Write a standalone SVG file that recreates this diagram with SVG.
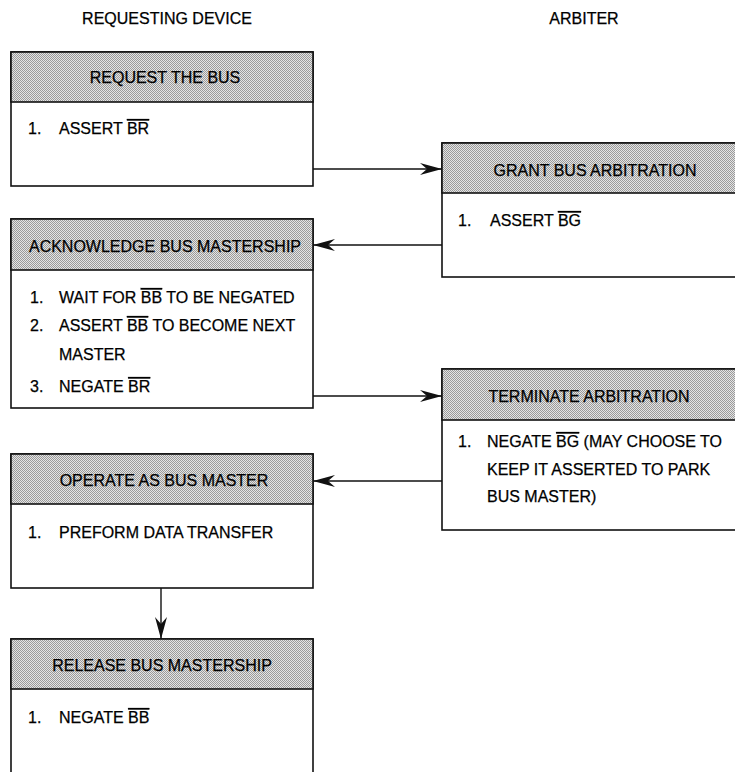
<svg xmlns="http://www.w3.org/2000/svg" width="735" height="772" viewBox="0 0 735 772">
<style>
text{font-family:"Liberation Sans",Arial,sans-serif;font-size:16px;fill:#000;stroke:#000;stroke-width:0.25}
.hd{text-anchor:middle}
.box{fill:#fff;stroke:#111;stroke-width:1.6}
.hdr{fill:url(#dots);stroke:#111;stroke-width:1.6}
.ol{text-decoration:overline}
.conn{stroke:#111;stroke-width:1.4;fill:none}
</style>
<defs>
<pattern id="dots" width="2" height="2" patternUnits="userSpaceOnUse">
<rect width="2" height="2" fill="#e4e4e4"/>
<rect width="1" height="1" fill="#9a9a9a"/>
<rect x="1" y="1" width="1" height="1" fill="#9a9a9a"/>
</pattern>
<marker id="ah" markerWidth="24" markerHeight="14" viewBox="-23 -7 24 14" refX="0" refY="0" orient="auto" markerUnits="userSpaceOnUse">
<path d="M0,0 L-22,-6 L-15,0 L-22,6 Z" fill="#111"/>
</marker>
</defs>
<g id="titles">
<text class="hd" x="167" y="24">REQUESTING DEVICE</text>
<text class="hd" x="584" y="24">ARBITER</text>
</g>
<g id="request">
<rect class="box" x="11" y="52" width="302" height="134"/>
<rect class="hdr" x="11" y="52" width="302" height="50"/>
<text class="hd" x="165" y="83">REQUEST THE BUS</text>
<text x="28" y="134">1.</text><text x="59" y="134">ASSERT <tspan class="ol">BR</tspan></text>
</g>
<g id="acknowledge">
<rect class="box" x="11" y="219" width="302" height="189"/>
<rect class="hdr" x="11" y="219" width="302" height="51"/>
<text class="hd" x="165" y="252">ACKNOWLEDGE BUS MASTERSHIP</text>
<text x="30" y="303">1.</text><text x="59" y="303">WAIT FOR <tspan class="ol">BB</tspan> TO BE NEGATED</text>
<text x="30" y="331">2.</text><text x="59" y="331">ASSERT <tspan class="ol">BB</tspan> TO BECOME NEXT</text>
<text x="59" y="360">MASTER</text>
<text x="30" y="392">3.</text><text x="59" y="392">NEGATE <tspan class="ol">BR</tspan></text>
</g>
<g id="operate">
<rect class="box" x="11" y="454" width="302" height="134"/>
<rect class="hdr" x="11" y="454" width="302" height="50"/>
<text class="hd" x="164" y="486">OPERATE AS BUS MASTER</text>
<text x="28" y="538">1.</text><text x="59" y="538">PREFORM DATA TRANSFER</text>
</g>
<g id="release">
<rect class="box" x="11" y="639" width="302" height="150"/>
<rect class="hdr" x="11" y="639" width="302" height="50"/>
<text class="hd" x="162" y="671">RELEASE BUS MASTERSHIP</text>
<text x="28" y="723">1.</text><text x="59" y="723">NEGATE <tspan class="ol">BB</tspan></text>
</g>
<g id="grant">
<rect class="box" x="442" y="143" width="300" height="134"/>
<rect class="hdr" x="442" y="143" width="300" height="50"/>
<text class="hd" x="595" y="176">GRANT BUS ARBITRATION</text>
<text x="458" y="226">1.</text><text x="490" y="226">ASSERT <tspan class="ol">BG</tspan></text>
</g>
<g id="terminate">
<rect class="box" x="442" y="369" width="300" height="161"/>
<rect class="hdr" x="442" y="369" width="300" height="51"/>
<text class="hd" x="589" y="402">TERMINATE ARBITRATION</text>
<text x="458" y="447">1.</text><text x="487" y="447">NEGATE <tspan class="ol">BG</tspan> (MAY CHOOSE TO</text>
<text x="487" y="475">KEEP IT ASSERTED TO PARK</text>
<text x="487" y="502">BUS MASTER)</text>
</g>
<g id="connectors">
<line class="conn" x1="313" y1="169" x2="442" y2="169" marker-end="url(#ah)"/>
<line class="conn" x1="442" y1="245" x2="313" y2="245" marker-end="url(#ah)"/>
<line class="conn" x1="313" y1="396" x2="442" y2="396" marker-end="url(#ah)"/>
<line class="conn" x1="442" y1="481" x2="313" y2="481" marker-end="url(#ah)"/>
<line class="conn" x1="161" y1="588" x2="161" y2="639" marker-end="url(#ah)"/>
</g>
</svg>
